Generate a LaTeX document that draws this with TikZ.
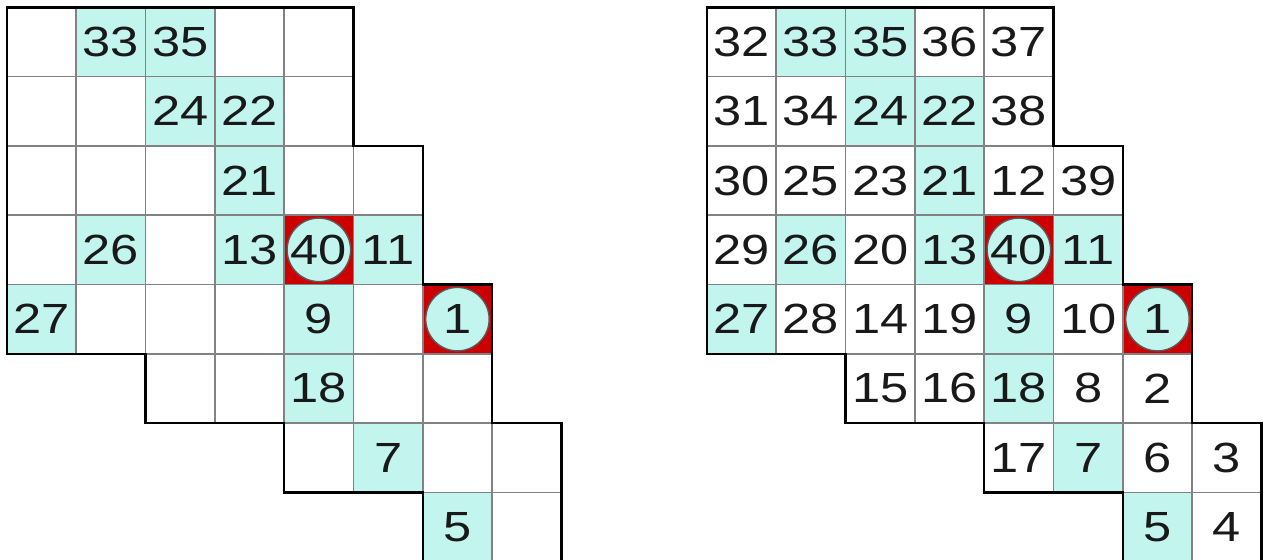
\documentclass[tikz,border=0pt]{standalone}
\usepackage{fontspec}
\setmainfont{Liberation Sans}
\usepackage{graphicx}
\usepackage{tikz}
\usetikzlibrary{positioning}
\definecolor{givencyan}{RGB}{194,245,237}
\definecolor{endred}{RGB}{204,0,0}
\definecolor{gridgray}{RGB}{130,130,130}
\definecolor{digitink}{RGB}{25,25,25}
\tikzset{
  kind0/.style={draw=gridgray,line width=1pt,fill=white,minimum size=1.386cm,inner sep=0pt,font=\fontsize{24}{28}\selectfont,text=digitink},
  kind1/.style={kind0,fill=givencyan},
  kind2/.style={kind0,fill=endred},
  endmark/.style={circle,draw=black!65,line width=0.8pt,fill=givencyan,minimum size=1.27cm,inner sep=0pt,font=\fontsize{24}{28}\selectfont,text=digitink},
  rim/.style={draw=black,line width=1.4pt,line join=miter}
}
% digits in the picture are drawn a bit wide
\newcommand{\Wide}[1]{\scalebox{1.2}[1]{#1}}
% column/row/solution/kind (0 empty, 1 given, 2 end point)
\newcommand{\HidatoCells}{%
  0/0/32/0, 1/0/33/1, 2/0/35/1, 3/0/36/0, 4/0/37/0,
  0/1/31/0, 1/1/34/0, 2/1/24/1, 3/1/22/1, 4/1/38/0,
  0/2/30/0, 1/2/25/0, 2/2/23/0, 3/2/21/1, 4/2/12/0, 5/2/39/0,
  0/3/29/0, 1/3/26/1, 2/3/20/0, 3/3/13/1, 4/3/40/2, 5/3/11/1,
  0/4/27/1, 1/4/28/0, 2/4/14/0, 3/4/19/0, 4/4/9/1, 5/4/10/0, 6/4/1/2,
  2/5/15/0, 3/5/16/0, 4/5/18/1, 5/5/8/0, 6/5/2/0,
  4/6/17/0, 5/6/7/1, 6/6/6/0, 7/6/3/0,
  6/7/5/1, 7/7/4/0}
\newcommand{\HidatoRim}{%
  \draw[rim] (0,0) -| (5,-2) -| (6,-4) -| (7,-6) -| (8,-8) -| (6,-7) -| (4,-6) -| (2,-5) -| (0,0) -- cycle;}

\begin{document}
\begin{tikzpicture}[x=1.386cm,y=1.386cm]
  \useasboundingbox (-0.14cm,0.146cm) rectangle (25.16cm,-11.054cm);

  % puzzle
  \begin{scope}
    \foreach \c/\r/\v/\k in \HidatoCells {
      \node[kind\k] (L\c-\r) at (\c+.5,-\r-.5) {\ifnum\k=1 \Wide{\v}\fi};
      \ifnum\k=2 \node[endmark] (Lm\c-\r) at (L\c-\r) {\Wide{\v}}; \fi
    }
    \HidatoRim
  \end{scope}

  % solution
  \begin{scope}[xshift=14cm]
    \foreach \c/\r/\v/\k in \HidatoCells {
      \node[kind\k] (R\c-\r) at (\c+.5,-\r-.5) {\ifnum\k=2 \else\Wide{\v}\fi};
      \ifnum\k=2 \node[endmark] (Rm\c-\r) at (R\c-\r) {\Wide{\v}}; \fi
    }
    \HidatoRim
  \end{scope}
\end{tikzpicture}
\end{document}
